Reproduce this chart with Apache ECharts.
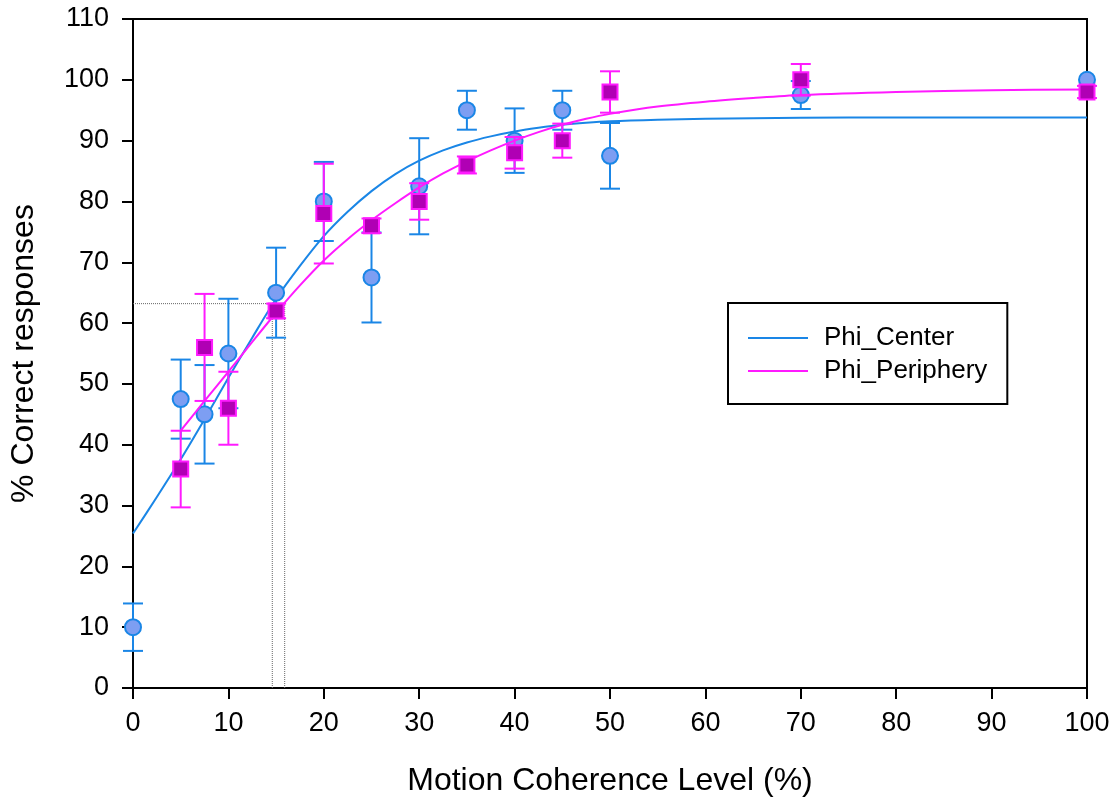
<!DOCTYPE html>
<html>
<head>
<meta charset="utf-8">
<script src="https://cdn.jsdelivr.net/npm/echarts@6/dist/echarts.min.js"></script>
<style>
  html, body { margin: 0; padding: 0; background: #fff; }
  #chart { width: 1113px; height: 802px; }
</style>
</head>
<body>
<div id="chart"></div>
<script>
// Coherence levels (%) and mean percent correct with error half-widths
const centerX = [0, 5, 7.5, 10, 15, 20, 25, 30, 35, 40, 45, 50, 70, 100];
const centerY = [10, 47.5, 45, 55, 65, 80, 67.5, 82.5, 95, 90, 95, 87.5, 97.5, 100];
const centerErr = [3.9, 6.5, 8.1, 9.0, 7.4, 6.5, 7.4, 7.9, 3.2, 5.3, 3.2, 5.4, 2.3, 0];

const peripheryX = [5, 7.5, 10, 15, 20, 25, 30, 35, 40, 45, 50, 70, 100];
const peripheryY = [36, 56, 46, 62, 78, 76, 80, 86, 88, 90, 98, 100, 98];
const peripheryErr = [6.3, 8.8, 6.0, 1.2, 8.2, 1.2, 3.0, 1.4, 2.6, 2.8, 3.4, 2.6, 1.0];

// Fitted psychometric curves, sampled along x
const centerFitX = [0, 2.5, 5, 7.5, 10, 12.5, 15, 17.5, 20, 22.5, 25, 27.5, 30, 32.5, 35, 37.5, 40, 42.5, 45, 47.5, 50, 55, 60, 70, 80, 90, 100];
const centerFitY = [25.4, 31.4, 37.6, 44.2, 51.0, 57.6, 64.0, 69.4, 74.3, 78.3, 81.7, 84.5, 86.7, 88.4, 89.7, 90.7, 91.5, 92.1, 92.6, 92.95, 93.2, 93.45, 93.6, 93.75, 93.8, 93.8, 93.8];
const peripheryFitX = [5, 7.5, 10, 12.5, 15, 17.5, 20, 22.5, 25, 27.5, 30, 32.5, 35, 37.5, 40, 42.5, 45, 47.5, 50, 55, 60, 65, 70, 80, 90, 100];
const peripheryFitY = [42.3, 47.2, 52.0, 56.9, 61.7, 66.2, 70.3, 73.8, 76.9, 79.7, 82.3, 84.6, 86.6, 88.4, 90.0, 91.4, 92.6, 93.6, 94.4, 95.6, 96.4, 97.0, 97.5, 98.0, 98.3, 98.4];

// Threshold level and the coherence at which each fit reaches it
const thresholdLevel = 63.2;
const thresholdX = [14.6, 15.9];

const xTicks = { min: 0, max: 100, interval: 10 };
const yTicks = { min: 0, max: 110, interval: 10 };

const BLUE = '#1a86e6';
const BLUE_FILL = '#7d9ef2';
const MAGENTA = '#ff1aff';
const PURPLE_FILL = '#b000b4';
const FONT = 'Liberation Sans, Arial, sans-serif';

const zip = (xs, ys) => xs.map((x, i) => [x, ys[i]]);
const errData = (xs, ys, es) => xs.map((x, i) => [x, ys[i], es[i]]);

function errorBarRenderer(color) {
  return function (params, api) {
    const x = api.value(0), y = api.value(1), e = api.value(2);
    if (!e) return null;
    const top = api.coord([x, y + e]);
    const bot = api.coord([x, y - e]);
    const hw = 10;
    const style = { stroke: color, lineWidth: 2 };
    return {
      type: 'group',
      children: [
        { type: 'line', shape: { x1: top[0], y1: top[1], x2: bot[0], y2: bot[1] }, style },
        { type: 'line', shape: { x1: top[0] - hw, y1: top[1], x2: top[0] + hw, y2: top[1] }, style },
        { type: 'line', shape: { x1: bot[0] - hw, y1: bot[1], x2: bot[0] + hw, y2: bot[1] }, style }
      ]
    };
  };
}

const refStyle = { color: '#666', width: 1, type: 'dotted' };
const maxThreshold = Math.max(...thresholdX);

const chart = echarts.init(document.getElementById('chart'), null, { renderer: 'canvas' });
chart.setOption({
  animation: false,
  backgroundColor: '#fff',
  textStyle: { fontFamily: FONT },
  grid: {
    left: 130, right: 26, top: 19, bottom: 112,
    show: true, borderColor: '#000', borderWidth: 2
  },
  legend: {
    left: 728, top: 303,
    orient: 'vertical',
    padding: [22, 20, 20, 20],
    itemGap: 7,
    itemWidth: 60, itemHeight: 2,
    borderColor: '#000', borderWidth: 2,
    textStyle: { fontSize: 26, color: '#000', fontFamily: FONT, padding: [0, 0, 0, 11] },
    data: [
      { name: 'Phi_Center', icon: 'rect', itemStyle: { color: BLUE } },
      { name: 'Phi_Periphery', icon: 'rect', itemStyle: { color: MAGENTA } }
    ]
  },
  xAxis: {
    type: 'value',
    min: xTicks.min, max: xTicks.max, interval: xTicks.interval,
    name: 'Motion Coherence Level (%)',
    nameLocation: 'middle',
    nameGap: 77,
    nameTextStyle: { fontSize: 32, color: '#000', fontFamily: FONT },
    axisLine: { onZero: false, lineStyle: { color: '#000', width: 2 } },
    axisTick: { show: true, inside: false, length: 11, lineStyle: { color: '#000', width: 2 } },
    axisLabel: { fontSize: 27, color: '#000', margin: 22, fontFamily: FONT },
    splitLine: { show: false }
  },
  yAxis: {
    type: 'value',
    min: yTicks.min, max: yTicks.max, interval: yTicks.interval,
    name: '% Correct responses',
    nameLocation: 'middle',
    nameGap: 93,
    nameTextStyle: { fontSize: 32, color: '#000', fontFamily: FONT },
    axisLine: { onZero: false, lineStyle: { color: '#000', width: 2 } },
    axisTick: { show: true, inside: false, length: 11, lineStyle: { color: '#000', width: 2 } },
    axisLabel: { fontSize: 27, color: '#000', margin: 24, fontFamily: FONT },
    splitLine: { show: false }
  },
  series: [
    // threshold guides
    {
      type: 'line', silent: true, symbol: 'none', z: 1,
      data: [[xTicks.min, thresholdLevel], [maxThreshold, thresholdLevel]],
      lineStyle: refStyle
    },
    ...thresholdX.map(tx => ({
      type: 'line', silent: true, symbol: 'none', z: 1,
      data: [[tx, yTicks.min], [tx, thresholdLevel]],
      lineStyle: refStyle
    })),
    // Phi_Center
    {
      name: 'Phi_Center', type: 'line', symbol: 'none', z: 2,
      smooth: 0.3,
      data: zip(centerFitX, centerFitY),
      lineStyle: { color: BLUE, width: 2 },
      itemStyle: { color: BLUE }
    },
    {
      type: 'custom', z: 3, clip: false, silent: true,
      renderItem: errorBarRenderer(BLUE),
      data: errData(centerX, centerY, centerErr)
    },
    {
      type: 'scatter', z: 4, clip: false, silent: true,
      symbol: 'circle', symbolSize: 16,
      itemStyle: { color: BLUE_FILL, borderColor: BLUE, borderWidth: 2, opacity: 1 },
      data: zip(centerX, centerY)
    },
    // Phi_Periphery
    {
      name: 'Phi_Periphery', type: 'line', symbol: 'none', z: 5,
      smooth: 0.3,
      data: zip(peripheryFitX, peripheryFitY),
      lineStyle: { color: MAGENTA, width: 2 },
      itemStyle: { color: MAGENTA }
    },
    {
      type: 'custom', z: 6, clip: false, silent: true,
      renderItem: errorBarRenderer(MAGENTA),
      data: errData(peripheryX, peripheryY, peripheryErr)
    },
    {
      type: 'scatter', z: 7, clip: false, silent: true,
      symbol: 'rect', symbolSize: 15,
      itemStyle: { color: PURPLE_FILL, borderColor: MAGENTA, borderWidth: 2, opacity: 1 },
      data: zip(peripheryX, peripheryY)
    }
  ]
});
</script>
</body>
</html>
